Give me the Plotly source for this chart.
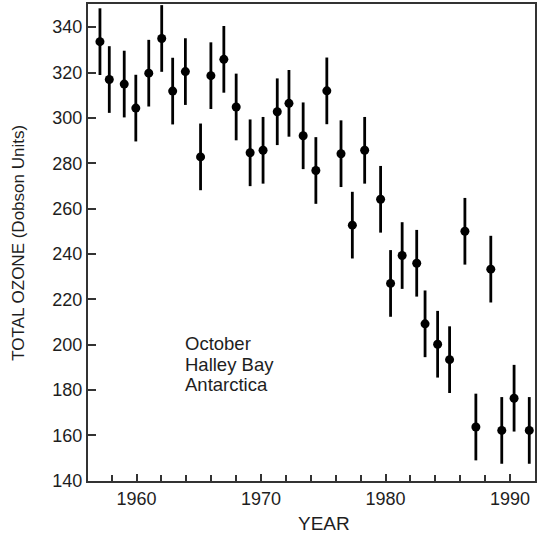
import plotly.graph_objects as go

years = [1957.06, 1957.81, 1959.01, 1959.94, 1960.98, 1962.02, 1962.90, 1963.92,
         1965.14, 1965.97, 1967.01, 1968.00, 1969.12, 1970.16, 1971.30, 1972.24,
         1973.38, 1974.40, 1975.28, 1976.42, 1977.33, 1978.32, 1979.60, 1980.40,
         1981.33, 1982.50, 1983.17, 1984.18, 1985.14, 1986.37, 1987.25, 1988.45,
         1989.33, 1990.32, 1991.54]
ozone = [333.6, 316.9, 314.9, 304.3, 319.7, 335.0, 311.8, 320.4,
         282.8, 318.6, 325.8, 304.8, 284.6, 285.7, 302.7, 306.4,
         292.1, 276.8, 311.9, 284.2, 252.7, 285.7, 264.1, 227.0,
         239.3, 235.9, 209.2, 200.2, 193.4, 250.0, 163.7, 233.3,
         162.2, 176.4, 162.2]
err = [14.7] * len(years)

note_lines = ["October", "Halley Bay", "Antarctica"]
note_y = [200.5, 191.3, 182.5]
note_x = 1963.7

ink = "#1e1e1e"
axis_col = "#333333"
fam = "Liberation Sans, Arial"

fig = go.Figure()
fig.add_trace(go.Scatter(
    x=years, y=ozone, mode="markers",
    marker=dict(color="black", size=9),
    error_y=dict(type="data", array=err, visible=True, color="black",
                 thickness=2.8, width=0),
    showlegend=False,
))

for txt, yy in zip(note_lines, note_y):
    fig.add_annotation(x=note_x, y=yy, xref="x", yref="y", text=txt,
                       showarrow=False, xanchor="left", yanchor="middle",
                       font=dict(size=18.5, color=ink, family=fam))

fig.add_annotation(x=0.528, y=-0.09, xref="paper", yref="paper", text="YEAR",
                   showarrow=False, xanchor="center", yanchor="middle",
                   font=dict(size=19, color=ink, family=fam))
fig.add_annotation(x=-0.156, y=0.5, xref="paper", yref="paper",
                   text="TOTAL OZONE (Dobson Units)", textangle=-90,
                   showarrow=False, xanchor="center", yanchor="middle",
                   font=dict(size=17, color=ink, family=fam))

fig.update_xaxes(range=[1956.1, 1992.0], tick0=1960, dtick=10, ticks="inside",
                 ticklen=7, tickwidth=1.5, tickcolor=axis_col,
                 minor=dict(dtick=2, tick0=1960, ticks="inside", ticklen=6,
                            tickwidth=1.5, tickcolor=axis_col, showgrid=False),
                 showline=True, linewidth=2, linecolor=axis_col, mirror=True,
                 showgrid=False, zeroline=False,
                 tickfont=dict(size=18, color=ink, family=fam))
fig.update_yaxes(range=[139.9, 350.2], tick0=140, dtick=20, ticks="inside",
                 ticklen=8, tickwidth=1.5, tickcolor=axis_col,
                 showline=True, linewidth=2, linecolor=axis_col, mirror=True,
                 showgrid=False, zeroline=False,
                 tickfont=dict(size=18, color=ink, family=fam))

fig.update_layout(width=539, height=538,
                  margin=dict(l=88, r=2, t=2, b=57),
                  paper_bgcolor="white", plot_bgcolor="white")

fig.write_html("out.html", config={"displayModeBar": False},
               post_script="document.body.style.margin='0';document.body.style.overflow='hidden';")
